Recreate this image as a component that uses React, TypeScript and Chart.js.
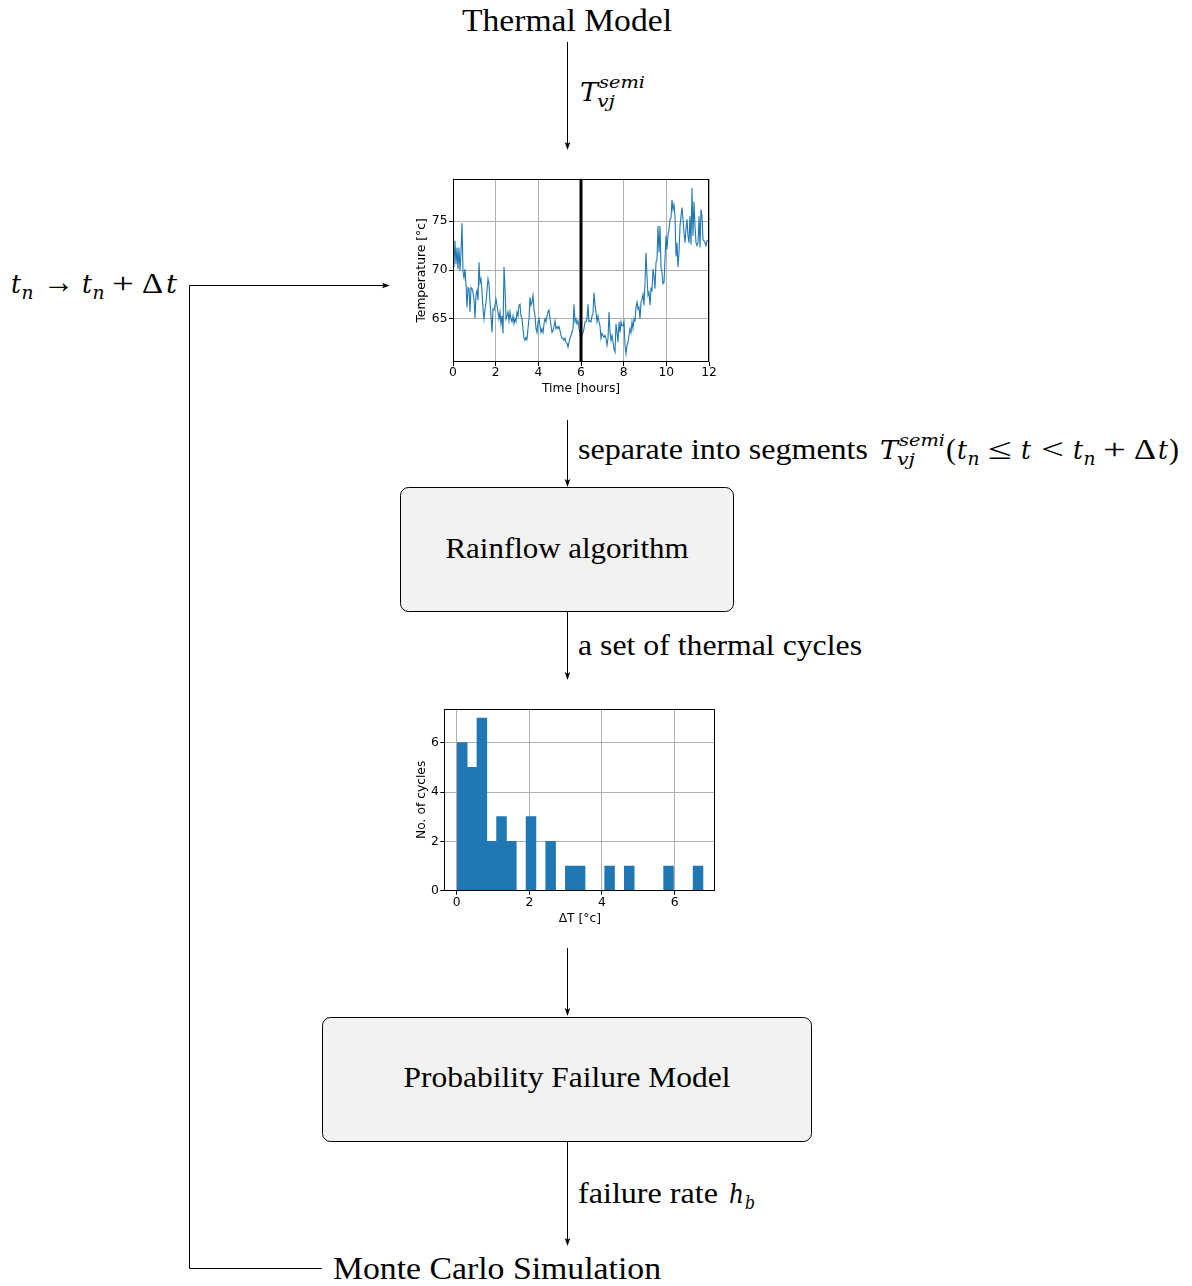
import React, { useEffect, useRef } from "react";
import { Chart, registerables } from "chart.js";

Chart.register(...registerables);

// ---------- data ----------

// Junction temperature trace over a 12 h window, evenly sampled
const TRACE_SPAN_H = 12;
const temperatureTrace = [
  70.4, 70.4, 73.0, 70.6, 72.3, 70.1, 72.3, 69.9, 71.8, 74.8,
  69.8, 69.2, 70.1, 68.6, 66.2, 68.2, 68.1, 65.7, 68.2, 68.1,
  67.7, 67.0, 65.1, 67.4, 67.9, 66.9, 70.8, 68.7, 69.1, 67.9,
  66.0, 65.0, 66.0, 66.7, 67.9, 69.1, 68.6, 66.7, 65.3, 63.6,
  66.0, 65.9, 66.4, 67.0, 66.4, 65.7, 65.0, 65.7, 64.5, 65.3,
  63.5, 70.3, 68.1, 65.0, 65.3, 65.7, 64.8, 65.7, 65.0, 64.7,
  65.3, 64.5, 65.0, 64.7, 65.7, 65.3, 66.4, 66.5, 65.3, 65.0,
  64.0, 63.0, 62.8, 63.1, 62.9, 64.0, 65.0, 67.2, 66.4, 66.7,
  67.4, 66.0, 65.3, 64.0, 63.6, 64.7, 65.0, 64.3, 63.6, 64.0,
  63.6, 64.5, 65.0, 64.7, 65.3, 65.7, 65.9, 65.0, 64.3, 63.6,
  63.8, 64.2, 64.8, 64.0, 64.2, 64.0, 64.2, 63.8, 63.3, 63.0,
  63.0, 62.8, 63.0, 62.6, 62.5, 62.1, 62.6, 63.0, 63.3, 63.6,
  64.0, 66.5, 64.7, 65.0, 64.5, 64.8, 64.0, 63.6, 62.6, 63.3,
  63.6, 64.0, 64.7, 64.7, 65.0, 66.5, 64.7, 64.8, 64.7, 65.3,
  65.5, 67.7, 66.4, 65.7, 64.7, 65.3, 64.7, 64.3, 63.0, 63.5,
  63.3, 63.1, 63.3, 63.0, 62.3, 63.0, 65.7, 63.6, 62.8, 63.3,
  62.6, 61.9, 61.6, 64.5, 63.6, 62.6, 64.7, 63.6, 64.7, 64.3,
  64.3, 64.7, 62.3, 61.4, 62.3, 62.6, 63.3, 64.0, 63.6, 64.7,
  64.0, 65.0, 64.8, 66.2, 66.7, 66.0, 66.2, 65.0, 66.7, 67.0,
  67.5, 66.4, 68.7, 71.8, 69.4, 67.4, 67.7, 66.4, 68.1, 67.9,
  70.1, 69.4, 68.1, 70.8, 71.1, 74.5, 71.8, 74.5, 70.3, 69.7,
  68.6, 68.7, 71.1, 73.5, 72.1, 73.6, 74.2, 75.2, 75.3, 77.2,
  76.2, 76.7, 75.5, 71.4, 72.8, 70.3, 71.8, 74.5, 75.5, 76.4,
  75.2, 73.8, 72.8, 74.2, 75.2, 73.5, 72.8, 75.5, 72.6, 78.4,
  73.5, 77.0, 74.5, 72.8, 72.5, 72.8, 75.5, 72.3, 76.2, 75.5,
  73.1, 73.0, 72.8, 72.5, 73.0, 73.0, 72.8,
];
const segmentBoundaryH = 6;
const timeLimits = [0, 12];
const tempLimits = [60.58, 79.34];
const timeTicks = [0, 2, 4, 6, 8, 10, 12];
const tempTicks = [65, 70, 75];

// Rainflow result: histogram of cycle amplitudes
const deltaTRange = [0.018, 6.78];
const cycleCounts = [6, 5, 7, 2, 3, 2, 0, 3, 0, 2, 0, 1, 1, 0, 0, 1, 0, 1, 0, 0, 0, 1, 0, 0, 1];
const deltaLimits = [-0.34, 7.12];
const countLimits = [0, 7.37];
const deltaTicks = [0, 2, 4, 6];
const countTicks = [0, 2, 4, 6];

// ---------- chart helpers ----------

const BLUE = "#1f77b4";
const GRID = "#b0b0b0";
const axisFont = { family: "'DejaVu Sans', sans-serif", size: 12.3 };

const framePlugin = {
  id: "frame",
  afterDraw(chart: any) {
    const { ctx, chartArea: a } = chart;
    ctx.save();
    ctx.strokeStyle = "#000";
    ctx.lineWidth = 1;
    const l = Math.round(a.left) + 0.5;
    const t = Math.round(a.top) + 0.5;
    const r = Math.round(a.right) - 0.5;
    const b = Math.round(a.bottom) - 0.5;
    ctx.strokeRect(l, t, r - l, b - t);
    ctx.restore();
  },
};

const boundaryPlugin = {
  id: "boundary",
  afterDatasetsDraw(chart: any) {
    const { ctx, chartArea: a, scales } = chart;
    const px = scales.x.getPixelForValue(segmentBoundaryH);
    ctx.save();
    ctx.strokeStyle = "#000";
    ctx.lineWidth = 3;
    ctx.beginPath();
    ctx.moveTo(px, a.top);
    ctx.lineTo(px, a.bottom);
    ctx.stroke();
    ctx.restore();
  },
};

function axis(o: {
  limits: number[];
  ticks: number[];
  title: string;
  horizontal: boolean;
  size: number;
  titleOffset: number;
  tickPad: number;
  z?: number;
}) {
  return {
    type: "linear",
    min: o.limits[0],
    max: o.limits[1],
    offset: false,
    z: o.z ?? 0,
    afterBuildTicks: (s: any) => {
      s.ticks = o.ticks.map((v) => ({ value: v }));
    },
    afterFit: (s: any) => {
      if (o.horizontal) s.height = o.size;
      else s.width = o.size;
    },
    grid: {
      color: GRID,
      lineWidth: 1,
      drawTicks: true,
      tickLength: 4,
      tickColor: "#000",
      offset: false,
    },
    border: { display: false },
    ticks: {
      font: axisFont,
      color: "#000",
      padding: o.tickPad,
      maxRotation: 0,
      autoSkip: false,
      callback: (v: number) => String(v),
    },
    title: {
      display: true,
      text: o.title,
      font: axisFont,
      color: "#000",
      padding: o.horizontal ? { top: 0, bottom: o.titleOffset } : { top: o.titleOffset, bottom: 0 },
    },
  };
}

function temperatureConfig(): any {
  const step = TRACE_SPAN_H / (temperatureTrace.length - 1);
  const points = temperatureTrace.map((y, i) => ({ x: i * step, y }));
  return {
    type: "line",
    data: {
      datasets: [
        {
          data: points,
          borderColor: BLUE,
          borderWidth: 1.1,
          pointRadius: 0,
          tension: 0,
          fill: false,
        },
      ],
    },
    options: {
      animation: false,
      responsive: false,
      events: [],
      layout: { padding: { top: 7, right: 16, bottom: 0, left: 0 } },
      plugins: { legend: { display: false }, tooltip: { enabled: false } },
      scales: {
        x: axis({ limits: timeLimits, ticks: timeTicks, title: "Time [hours]", horizontal: true, size: 40, titleOffset: 6, tickPad: -1 }),
        y: axis({ limits: tempLimits, ticks: tempTicks, title: "Temperature [°c]", horizontal: false, size: 53, titleOffset: 14.3, tickPad: 1.5 }),
      },
    },
    plugins: [boundaryPlugin, framePlugin],
  };
}

function histogramConfig(): any {
  const width = (deltaTRange[1] - deltaTRange[0]) / cycleCounts.length;
  const bars = cycleCounts.map((c, i) => ({ x: deltaTRange[0] + (i + 0.5) * width, y: c }));
  return {
    type: "bar",
    data: {
      datasets: [
        {
          data: bars,
          backgroundColor: BLUE,
          borderWidth: 0,
          barPercentage: 1,
          categoryPercentage: 1,
        },
      ],
    },
    options: {
      animation: false,
      responsive: false,
      events: [],
      layout: { padding: { top: 6.7, right: 9.7, bottom: 0, left: 0 } },
      plugins: { legend: { display: false }, tooltip: { enabled: false } },
      scales: {
        x: axis({ limits: deltaLimits, ticks: deltaTicks, title: "ΔT [°c]", horizontal: true, size: 41.3, titleOffset: 5.8, tickPad: 1, z: 1 }),
        y: axis({ limits: countLimits, ticks: countTicks, title: "No. of cycles", horizontal: false, size: 44.3, titleOffset: 14.3, tickPad: 1.5, z: 1 }),
      },
    },
    plugins: [framePlugin],
  };
}

function ChartCanvas(props: { left: number; top: number; width: number; height: number; build: () => any }) {
  const ref = useRef<HTMLCanvasElement>(null);
  useEffect(() => {
    const chart = new Chart(ref.current as HTMLCanvasElement, props.build());
    return () => chart.destroy();
  }, []);
  return (
    <canvas
      ref={ref}
      width={props.width}
      height={props.height}
      style={{ position: "absolute", left: props.left, top: props.top, width: props.width, height: props.height }}
    />
  );
}

// ---------- diagram text helpers ----------

const SERIF = "'Liberation Serif', 'Times New Roman', serif";
const MATH = "'DejaVu Serif', 'Liberation Serif', serif";

function Tx(p: {
  x: number;
  y: number;
  size: number;
  italic?: boolean;
  anchor?: "start" | "middle" | "end";
  len?: number;
  children: React.ReactNode;
}) {
  return (
    <text
      x={p.x}
      y={p.y}
      fontSize={p.size}
      fontFamily={p.italic ? MATH : SERIF}
      fontStyle={p.italic ? "italic" : "normal"}
      textAnchor={p.anchor ?? "start"}
      fill="#000"
      {...(p.len ? { textLength: p.len, lengthAdjust: "spacingAndGlyphs" } : {})}
    >
      {p.children}
    </text>
  );
}

// T_vj^semi
function TSemi({ x, y }: { x: number; y: number }) {
  return (
    <g>
      <Tx x={x} y={y} size={26} italic len={18}>T</Tx>
      <Tx x={x + 19} y={y - 13} size={17} italic len={46}>semi</Tx>
      <Tx x={x + 17} y={y + 6} size={17} italic len={18}>vj</Tx>
    </g>
  );
}

function ArrowDown({ x, y1, y2 }: { x: number; y1: number; y2: number }) {
  return (
    <g>
      <line x1={x} y1={y1} x2={x} y2={y2 - 4} stroke="#000" strokeWidth={1} />
      <path d={`M${x} ${y2} L${x - 2.8} ${y2 - 8} L${x} ${y2 - 6.3} L${x + 2.8} ${y2 - 8} Z`} fill="#000" />
    </g>
  );
}

export default function App() {
  const cx = 567.5;
  return (
    <div style={{ position: "absolute", left: 0, top: 0, width: 1192, height: 1286, background: "#fff", overflow: "hidden" }}>
      <svg width={1192} height={1286} style={{ position: "absolute", left: 0, top: 0 }}>
        {/* source */}
        <Tx x={567} y={30.5} size={31.5} anchor="middle" len={210}>Thermal Model</Tx>
        <ArrowDown x={cx} y1={42} y2={150} />
        <TSemi x={580} y={101} />

        {/* feedback loop: advance the time window */}
        <Tx x={11} y={292.5} size={26} italic len={10}>t</Tx>
        <Tx x={21.5} y={298.5} size={18} italic len={12}>n</Tx>
        <Tx x={43} y={292.5} size={34} len={31}>→</Tx>
        <Tx x={82} y={292.5} size={26} italic len={10}>t</Tx>
        <Tx x={92.5} y={298.5} size={18} italic len={12}>n</Tx>
        <Tx x={112} y={292.5} size={30} len={22}>+</Tx>
        <Tx x={142} y={292.5} size={30} len={21}>Δ</Tx>
        <Tx x={166} y={292.5} size={26} italic len={11}>t</Tx>
        <polyline points="322,1268.5 189.5,1268.5 189.5,285.5 384,285.5" fill="none" stroke="#000" strokeWidth={1} />
        <path d="M390 285.5 L382 282.7 L383.7 285.5 L382 288.3 Z" fill="#000" />

        {/* segmentation */}
        <ArrowDown x={cx} y1={420} y2={487} />
        <Tx x={578} y={459} size={30} len={290}>separate into segments</Tx>
        <TSemi x={880} y={459} />
        <Tx x={946} y={459} size={30}>(</Tx>
        <Tx x={957} y={459} size={26} italic len={10}>t</Tx>
        <Tx x={967.5} y={465} size={18} italic len={12}>n</Tx>
        <Tx x={988} y={459} size={30} len={24}>≤</Tx>
        <Tx x={1021} y={459} size={26} italic len={10}>t</Tx>
        <Tx x={1041} y={459} size={30} len={23}>&lt;</Tx>
        <Tx x={1073} y={459} size={26} italic len={10}>t</Tx>
        <Tx x={1083.5} y={465} size={18} italic len={12}>n</Tx>
        <Tx x={1103} y={459} size={30} len={23}>+</Tx>
        <Tx x={1134} y={459} size={30} len={22}>Δ</Tx>
        <Tx x={1158} y={459} size={26} italic len={10}>t</Tx>
        <Tx x={1169} y={459} size={30}>)</Tx>

        {/* rainflow */}
        <rect x={400.5} y={487.5} width={333} height={124} rx={8} ry={8} fill="#f2f2f2" stroke="#000" strokeWidth={1} />
        <Tx x={567} y={558} size={29} anchor="middle" len={243}>Rainflow algorithm</Tx>
        <ArrowDown x={cx} y1={612} y2={680} />
        <Tx x={578} y={655} size={30} len={284}>a set of thermal cycles</Tx>

        {/* failure model */}
        <ArrowDown x={cx} y1={948} y2={1016} />
        <rect x={322.5} y={1017.5} width={489} height={124} rx={8} ry={8} fill="#f2f2f2" stroke="#000" strokeWidth={1} />
        <Tx x={567} y={1087} size={30} anchor="middle" len={327}>Probability Failure Model</Tx>
        <ArrowDown x={cx} y1={1142} y2={1246} />
        <Tx x={578} y={1203} size={30} len={140}>failure rate</Tx>
        <Tx x={729} y={1203} size={26} italic len={15}>h</Tx>
        <Tx x={745} y={1209} size={18} italic len={10}>b</Tx>

        <Tx x={333} y={1278.5} size={31.5} len={328}>Monte Carlo Simulation</Tx>
      </svg>

      <ChartCanvas left={400} top={170} width={325} height={232} build={temperatureConfig} />
      <ChartCanvas left={400} top={700} width={325} height={232} build={histogramConfig} />
    </div>
  );
}
